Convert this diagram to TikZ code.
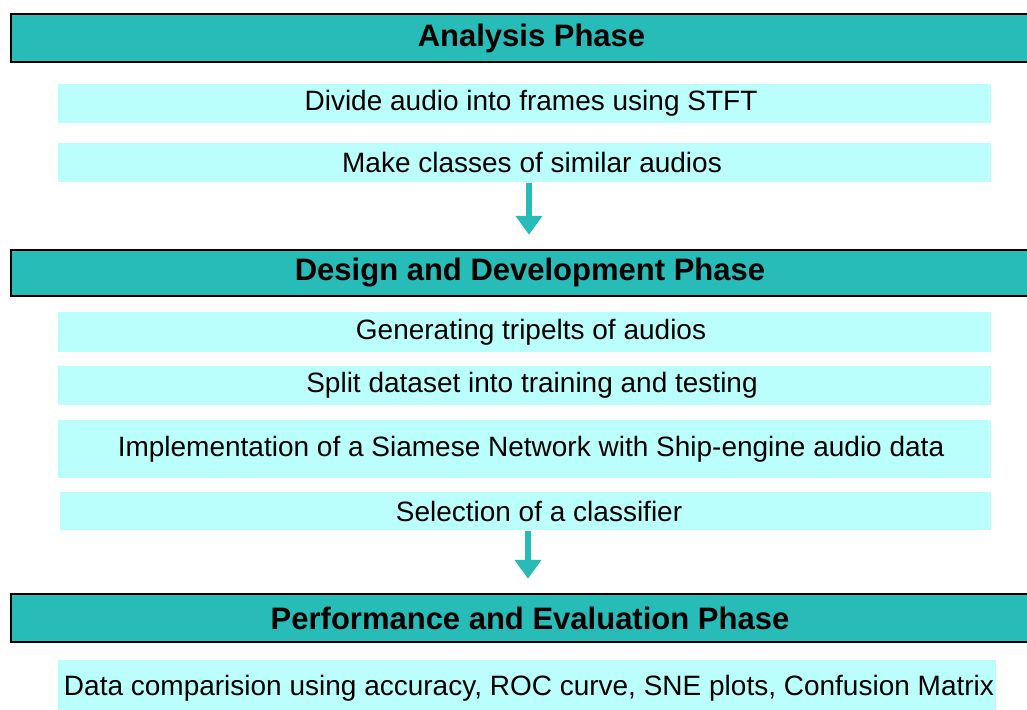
\documentclass[tikz,border=0pt]{standalone}
\usepackage{fontspec}
\setmainfont{Liberation Sans}
\usetikzlibrary{arrows.meta}
\definecolor{teal1}{HTML}{27BCB7}
\definecolor{lcyan}{HTML}{BAFFFC}
\begin{document}
\begin{tikzpicture}[x=1pt,y=-1pt,
  header/.style={draw=black,line width=2.5pt,fill=teal1,minimum width=1038pt,inner sep=0pt,
    font=\fontsize{31}{36}\selectfont\bfseries},
  lbox/.style={fill=lcyan,inner sep=0pt,font=\fontsize{28}{33}\selectfont},
  tshift/.style={execute at begin node={\hspace*{#1}}},
  arr/.style={draw=teal1,line width=6pt,-{Triangle[width=26pt,length=19pt]}}]
\useasboundingbox (0,0) rectangle (1027,709);
\clip (0,0) rectangle (1027,709);
\fill[white] (0,0) rectangle (1027,709);
% phase headers
\node[header,minimum height=48pt,tshift=3pt] (h1) at (530,38) {Analysis Phase};
\node[header,minimum height=46pt] (h2) at (530,273) {Design and Development Phase};
\node[header,minimum height=48pt] (h3) at (530,618) {Performance and Evaluation Phase};
% steps
\node[lbox,minimum width=933pt,minimum height=39pt,tshift=13pt] (b1) at (524.5,103.5) {Divide audio into frames using STFT};
\node[lbox,minimum width=933pt,minimum height=39pt,tshift=15pt] (b2) at (524.5,162.5) {Make classes of similar audios};
\node[lbox,minimum width=933pt,minimum height=40pt,tshift=13pt] (b3) at (524.5,332) {Generating tripelts of audios};
\node[lbox,minimum width=933pt,minimum height=39pt,tshift=15pt] (b4) at (524.5,385.5) {Split dataset into training and testing};
\node[lbox,minimum width=933pt,minimum height=58pt,tshift=13pt] (b5) at (524.5,449) {Implementation of a Siamese Network with Ship-engine audio data};
\node[lbox,minimum width=931pt,minimum height=38pt,tshift=27pt] (b6) at (525.5,511) {Selection of a classifier};
\node[lbox,minimum width=938pt,minimum height=56pt,tshift=4pt] (b7) at (527,688) {Data comparision using accuracy, ROC curve, SNE plots, Confusion Matrix};
% arrows
\draw[arr,shorten <=1pt,shorten >=14pt] ([xshift=4.5pt]b2.south) -- ([xshift=4.5pt]b2.south |- h2.north);
\draw[arr,shorten <=1pt,shorten >=14pt] ([xshift=2.5pt]b6.south) -- ([xshift=2.5pt]b6.south |- h3.north);
\end{tikzpicture}
\end{document}
